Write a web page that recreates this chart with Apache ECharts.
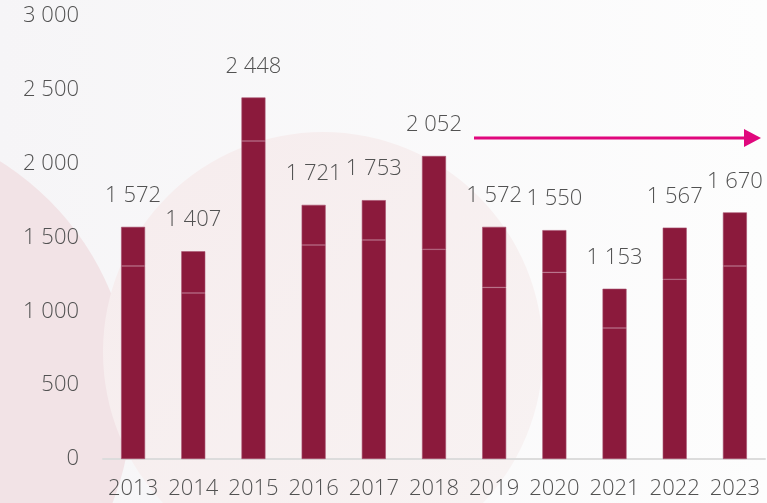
<!DOCTYPE html>
<html>
<head>
<meta charset="utf-8">
<script src="https://cdn.jsdelivr.net/npm/echarts@6/dist/echarts.min.js"></script>
<style>
  html, body { margin: 0; padding: 0; background: #f8f7f8; }
  #chart { width: 767px; height: 503px; }
</style>
</head>
<body>
<div id="chart"></div>
<script>
// Years on the category axis
const years = ['2013', '2014', '2015', '2016', '2017', '2018', '2019', '2020', '2021', '2022', '2023'];
// Yearly totals (labelled above each bar)
const totals = [1572, 1407, 2448, 1721, 1753, 2052, 1572, 1550, 1153, 1567, 1670];
// Lower part of each bar (below the thin divider)
const lowerPart = [1307, 1124, 2153, 1449, 1483, 1420, 1162, 1264, 887, 1217, 1307];
// Value-axis ticks
const yTicks = [0, 500, 1000, 1500, 2000, 2500, 3000];

const upperPart = totals.map((t, i) => t - lowerPart[i]);
const fmt = v => String(v).replace(/\B(?=(\d{3})+(?!\d))/g, ' ');

const FONT = '"Open Sans", "Lato", sans-serif';
const BAR = '#8b1a3c';
const EDGE = '#a8506f';
const TEXT = '#525252';

const chart = echarts.init(document.getElementById('chart'));

chart.setOption({
  backgroundColor: 'transparent',
  animation: false,
  grid: { left: 103, right: 2, top: 16, bottom: 44 },
  graphic: [
    // soft background shapes
    {
      type: 'rect', z: -10, silent: true,
      shape: { x: 0, y: 0, width: 767, height: 503 },
      style: {
        fill: new echarts.graphic.LinearGradient(0, 0, 1, 0, [
          { offset: 0, color: '#f6f5f7' },
          { offset: 1, color: '#fdfdfd' }
        ])
      }
    },
    {
      type: 'circle', z: -9, silent: true,
      shape: { cx: -150, cy: 400, r: 282 },
      style: { fill: '#f2e3e6' }
    },
    {
      type: 'circle', z: -8, silent: true,
      shape: { cx: 323, cy: 352, r: 220 },
      style: {
        fill: new echarts.graphic.LinearGradient(0, 0, 1, 1, [
          { offset: 0, color: '#f6eced' },
          { offset: 1, color: '#f8f3f3' }
        ])
      }
    },
    // trend arrow
    {
      type: 'line', z: 10, silent: true,
      shape: { x1: 474, y1: 138, x2: 748, y2: 138 },
      style: { stroke: '#e0077d', lineWidth: 3 }
    },
    {
      type: 'polygon', z: 10, silent: true,
      shape: { points: [[744, 129], [744, 147], [761, 138]] },
      style: { fill: '#e0077d' }
    }
  ],
  xAxis: {
    type: 'category',
    data: years,
    axisLine: { show: true, lineStyle: { color: '#dcdcdc', width: 2 } },
    axisTick: { show: false },
    axisLabel: {
      color: TEXT, fontFamily: FONT, fontWeight: 300, fontSize: 22,
      margin: 19, interval: 0
    }
  },
  yAxis: {
    type: 'value',
    min: yTicks[0],
    max: yTicks[yTicks.length - 1],
    interval: yTicks[1] - yTicks[0],
    splitLine: { show: false },
    axisLine: { show: false },
    axisTick: { show: false },
    axisLabel: {
      color: TEXT, fontFamily: FONT, fontWeight: 300, fontSize: 22,
      margin: 24, formatter: v => fmt(v)
    }
  },
  series: [
    {
      type: 'bar',
      stack: 'total',
      data: lowerPart,
      barWidth: 24,
      itemStyle: { color: BAR, borderColor: EDGE, borderWidth: 0.6 }
    },
    {
      type: 'bar',
      stack: 'total',
      data: upperPart,
      barWidth: 24,
      itemStyle: { color: BAR, borderColor: EDGE, borderWidth: 0.6 },
      label: {
        show: true,
        position: 'top',
        distance: 20,
        color: TEXT, fontFamily: FONT, fontWeight: 300, fontSize: 22,
        formatter: p => fmt(totals[p.dataIndex])
      }
    }
  ]
});
</script>
</body>
</html>
